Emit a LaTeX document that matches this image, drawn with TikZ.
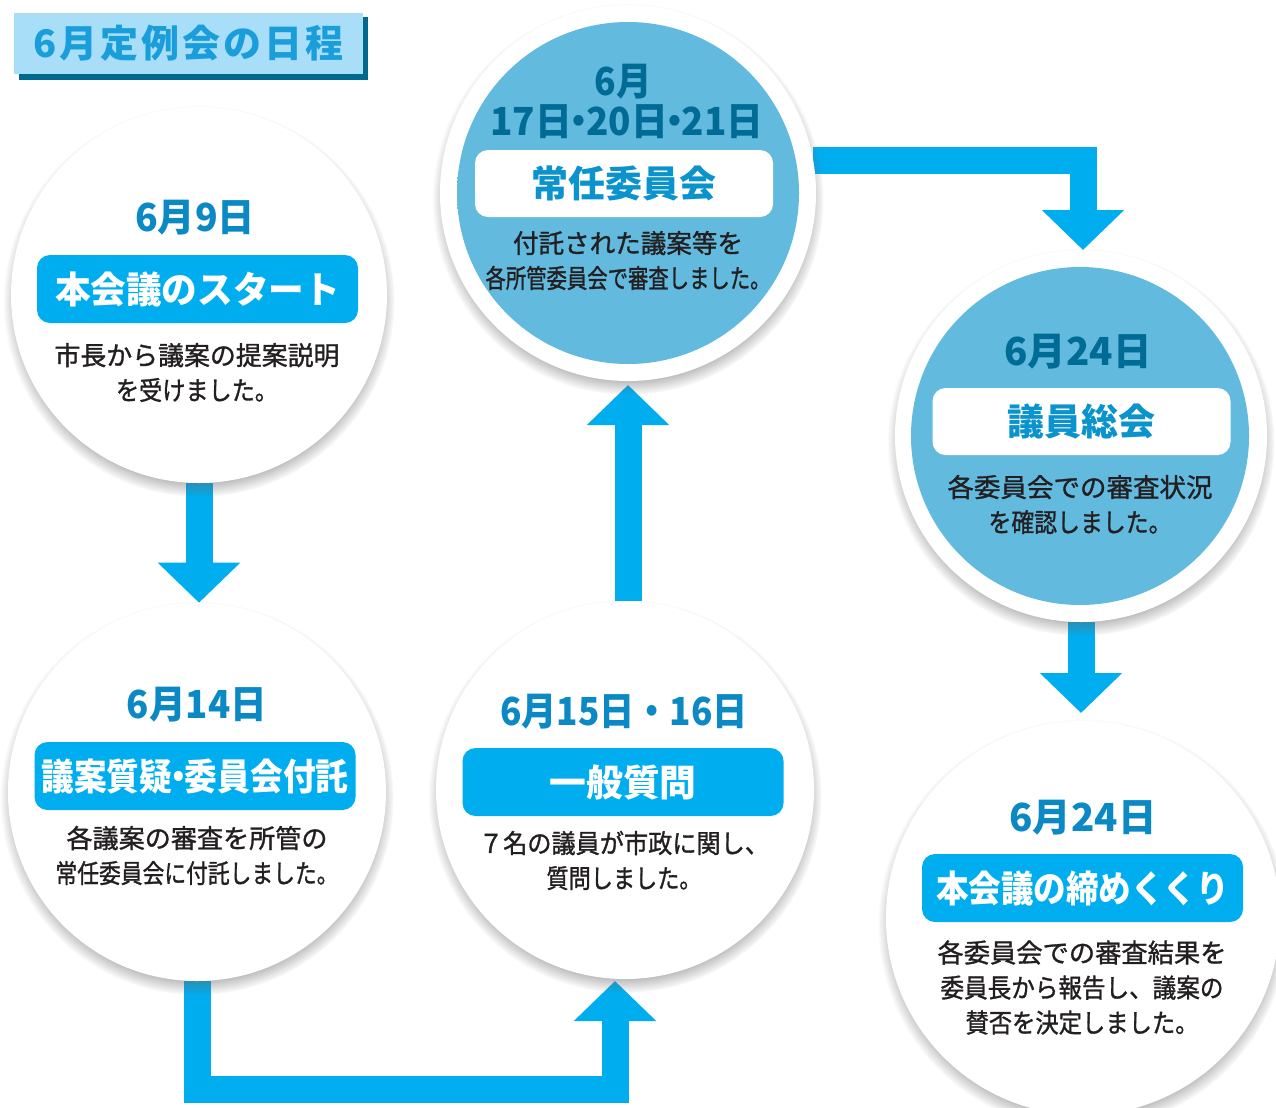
\documentclass[tikz,border=0pt]{standalone}
\usepackage{fontspec}
\usepackage{graphicx}
\setmainfont{Noto Sans CJK JP}
\newfontfamily\bodyjp{Noto Sans CJK JP}[FakeBold=1.2]
\usetikzlibrary{arrows.meta,shadows,fadings,calc}
\newdimen\pxu \pxu=0.75pt
\newcommand\fw[2]{\resizebox{#1\pxu}{\height}{#2}}
\newcommand\nd{\kern-0.31em・\kern-0.31em}
\definecolor{cyanA}{HTML}{00AEEF}
\definecolor{dateW}{HTML}{0A89C4}
\definecolor{dateB}{HTML}{006C96}
\definecolor{blueFill}{HTML}{62BADF}
\definecolor{blueRim}{HTML}{3A82A6}
\definecolor{boxTxt}{HTML}{0A93CC}
\definecolor{titleFill}{HTML}{A9DEF8}
\definecolor{titleShadow}{HTML}{00698E}
\definecolor{titleTxt}{HTML}{1A9EDB}
\definecolor{bodyTxt}{HTML}{231F20}
\pgfdeclareradialshading{whiterim}{\pgfpoint{0bp}{-6bp}}{color(0bp)=(white); color(42bp)=(white); color(47bp)=(black!14); color(50bp)=(black!38)}
\pgfdeclareradialshading{bluerim}{\pgfpoint{0bp}{-4bp}}{color(0bp)=(blueFill); color(43bp)=(blueFill); color(50bp)=(blueRim)}
\pgfdeclarelayer{bg}
\pgfsetlayers{bg,main}
\tikzset{
  outerdisc/.style={circle, inner sep=0pt, fill=white, minimum size=#1,
    circular drop shadow={shadow xshift=0pt, shadow yshift=-6\pxu, shadow scale=1.04, opacity=0.85, fill=black!60}},
  innerwhite/.style={circle, inner sep=0pt, minimum size=#1, shade, shading=whiterim},
  innerblue/.style={circle, inner sep=0pt, minimum size=#1, shade, shading=bluerim},
  datew/.style={text=dateW, font=\bfseries\fontsize{29pt}{30pt}\selectfont, inner sep=0pt},
  dateb/.style={datew, text=dateB},
  cyanbox/.style={rounded corners=13\pxu, fill=cyanA, text=white, minimum width=321\pxu, minimum height=68\pxu, inner sep=0pt, font=\bfseries\fontsize{27.75pt}{30pt}\selectfont},
  whitebox/.style={cyanbox, fill=white, text=boxTxt, minimum width=298\pxu, minimum height=67\pxu},
  body/.style={align=center, inner sep=0pt, text=bodyTxt, font=\bodyjp\fontsize{19.5pt}{26.25pt}\selectfont},
  bigarrow/.style={draw=cyanA, line width=20.25pt, line join=miter, line cap=butt, -{Triangle[width=60pt,length=30pt]}}
}
\begin{document}
\begin{tikzpicture}[x=0.75pt,y=-0.75pt]
\useasboundingbox (0,0) rectangle (1276,1107);
\clip (0,0) rectangle (1276,1107);

% title
\fill[titleShadow] (19,17) rectangle (368,80);
\node[fill=titleFill, minimum width=349\pxu, minimum height=61\pxu, inner sep=0pt, text=titleTxt, font=\bfseries\fontsize{28.5pt}{30pt}\selectfont] (title) at (188.5,43.5) {\makebox[311\pxu][s]{6\hfill 月\hfill 定\hfill 例\hfill 会\hfill の\hfill 日\hfill 程}};

% circles
\node[outerdisc=376\pxu] (o1) at (199,295) {};
\node[innerwhite=342\pxu] (c1) at (199,296) {};
\node[outerdisc=376\pxu] (o2) at (628,193) {};
\node[innerblue=342\pxu] (c2) at (628,193) {};
\node[outerdisc=372\pxu] (o3) at (1081,436) {};
\node[innerblue=338\pxu] (c3) at (1080,436) {};
\node[outerdisc=378\pxu] (o4) at (197,792) {};
\node[innerwhite=344\pxu] (c4) at (196,793) {};
\node[outerdisc=378\pxu] (o5) at (625,790) {};
\node[innerwhite=344\pxu] (c5) at (624,790) {};
\node[outerdisc=394\pxu] (o6) at (1083,918) {};
\node[innerwhite=360\pxu] (c6) at (1083,918) {};

% dates
\node[datew] (d1) at (195,218) {\fw{120}{6月9日}};
\node[dateb] (d2a) at (623,82) {\fw{57}{6月}};
\node[dateb] (d2b) at (627,122) {\fw{273}{17日\nd 20日\nd 21日}};
\node[dateb] (d3) at (1078,352) {\fw{147}{6月24日}};
\node[datew] (d4) at (197,705) {\fw{140}{6月14日}};
\node[datew] (d5) at (624,712) {\fw{248}{6月15日・16日}};
\node[datew] (d6) at (1083,818) {\fw{147}{6月24日}};

% label boxes
\node[cyanbox] (b1) at (197.5,289) {\fw{285}{本会議のスタート}};
\node[whitebox] (b2) at (624,183.5) {\fw{185}{常任委員会}};
\node[whitebox] (b3) at (1081.5,421.5) {\fw{148}{議員総会}};
\node[cyanbox] (b4) at (195,776) {\fw{307}{議案質疑\nd 委員会付託}};
\node[cyanbox] (b5) at (623,782) {\fw{147}{一般質問}};
\node[cyanbox] (b6) at (1082.5,888) {\fw{293}{本会議の締めくくり}};

% body texts
\node[body] (tx1) at (197,372.5) {\fw{285}{市長から議案の提案説明}\\\fw{162}{を受けました。}};
\node[body] (tx2) at (628,260.5) {\fw{230}{付託された議案等を}\\\fw{285}{各所管委員会で審査しました。}};
\node[body] (tx3) at (1080,504.5) {\fw{265}{各委員会での審査状況}\\\fw{183}{を確認しました。}};
\node[body] (tx4) at (197,855.5) {\fw{261}{各議案の審査を所管の}\\\fw{283}{常任委員会に付託しました。}};
\node[body] (tx5) at (624,860.5) {\fw{290}{７名の議員が市政に関し、}\\\fw{155}{質問しました。}};
\node[body] (tx6) at (1082,987.5) {\fw{289}{各委員会での審査結果を}\\\fw{283}{委員長から報告し、議案の}\\\fw{233}{賛否を決定しました。}};

% arrows (behind)
\coordinate (ar2k) at (615,1089);
\coordinate (ar2t) at (615,981);
\coordinate (ar3t) at (628,385);
\coordinate (ar4t) at (1083,250);
\coordinate (ar5t) at (1081,713);
\begin{pgfonlayer}{bg}
\draw[bigarrow] (o1.south) -- (o1.south |- o4.north);
\draw[bigarrow] (o4.south) |- (ar2k) -- (ar2t);
\draw[bigarrow] (ar3t |- o5.north) -- (ar3t);
\draw[bigarrow] (o2.10) -| (ar4t);
\draw[bigarrow] (ar5t |- o3.south) -- (ar5t);
\end{pgfonlayer}
\end{tikzpicture}
\end{document}
